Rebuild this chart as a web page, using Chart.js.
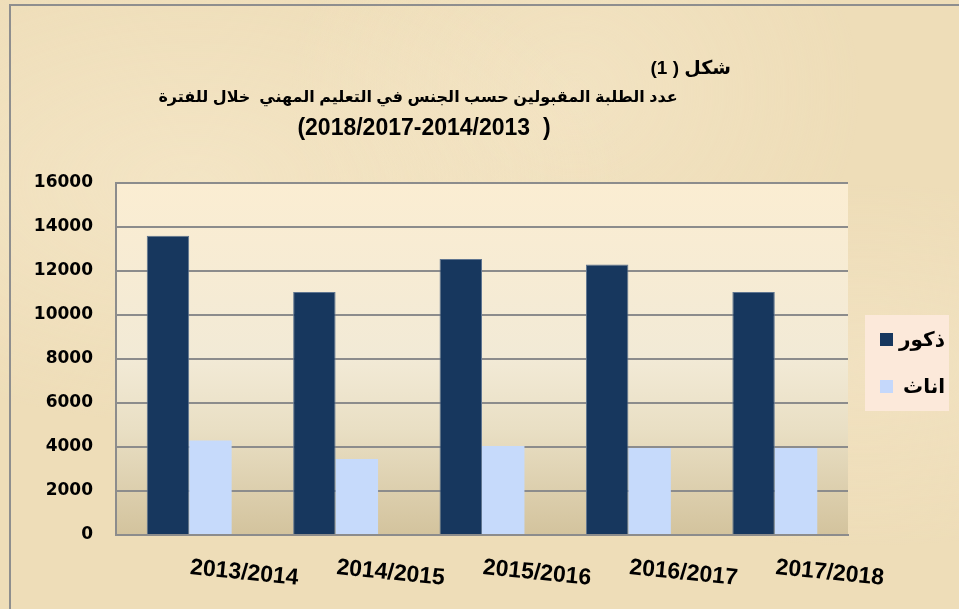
<!DOCTYPE html>
<html>
<head>
<meta charset="utf-8">
<script src="https://cdn.jsdelivr.net/npm/chart.js@4/dist/chart.umd.min.js"></script>
<style>
html,body{margin:0;padding:0;width:959px;height:609px;overflow:hidden;}
body{
  background-color:#EEDDB8;
  background-image:
    radial-gradient(ellipse at 20% 30%, rgba(250,238,212,0.45), rgba(250,238,212,0) 40%),
    radial-gradient(ellipse at 60% 15%, rgba(248,235,208,0.4), rgba(248,235,208,0) 35%),
    radial-gradient(ellipse at 90% 60%, rgba(246,232,205,0.4), rgba(246,232,205,0) 35%);
}
#frame{position:absolute;left:9px;top:4px;width:960px;height:620px;border-top:2px solid #8E8E8E;border-left:2px solid #8E8E8E;box-sizing:border-box;}
#wrap{position:absolute;left:0;top:0;width:959px;height:609px;}
.t{position:absolute;font-family:"Liberation Sans","DejaVu Sans",sans-serif;font-weight:bold;color:#000;white-space:pre;line-height:24px;height:24px;unicode-bidi:isolate;z-index:2;}
#t1{right:228px;top:56px;font-size:19px;text-align:right;}
#t2{left:0;width:836px;top:85px;font-size:16px;text-align:center;}
#t3{left:0;width:848px;top:115px;font-size:23px;text-align:center;}
</style>
</head>
<body>
<div id="frame"></div>
<div id="wrap"><canvas id="c" width="959" height="609"></canvas></div>
<div id="t1" class="t" dir="ltr"></div>
<div id="t2" class="t" dir="rtl"></div>
<div id="t3" class="t" dir="ltr"></div>
<script>
const categories = ['2013/2014','2014/2015','2015/2016','2016/2017','2017/2018'];
const maleValues = [13600, 11050, 12550, 12300, 11050];
const femaleValues = [4300, 3450, 4050, 3950, 3950];
const seriesNames = ['ذكور', 'اناث'];
const titleLines = ['شكل ( 1)', 'عدد الطلبة المقبولين حسب الجنس في التعليم المهني  خلال للفترة', '(2018/2017-2014/2013  )'];
const yTicks = [0, 2000, 4000, 6000, 8000, 10000, 12000, 14000, 16000];

document.getElementById('t1').textContent = titleLines[0];
document.getElementById('t2').textContent = titleLines[1];
document.getElementById('t3').textContent = titleLines[2];

const ctx = document.getElementById('c').getContext('2d');

function femaleFill(c) {
  const g = c.createLinearGradient(0, 0, 40, 60);
  g.addColorStop(0, '#C2D8FB');
  g.addColorStop(0.3, '#D2D6FA');
  g.addColorStop(0.55, '#C0D6FA');
  g.addColorStop(0.8, '#D6D8FB');
  g.addColorStop(1, '#C6DAFB');
  return g;
}

const bgPlugin = {
  id: 'bgPlugin',
  beforeDraw(chart) {
    const {ctx, chartArea: a} = chart;
    const g = ctx.createLinearGradient(0, a.top, 0, a.bottom);
    g.addColorStop(0, '#FBEDD2');
    g.addColorStop(0.5, '#F2EAD6');
    g.addColorStop(0.7, '#E9DFC4');
    g.addColorStop(1, '#D3C39D');
    ctx.save();
    ctx.fillStyle = g;
    ctx.fillRect(a.left, a.top, a.right - a.left, a.bottom - a.top);
    ctx.restore();
  },
  afterDraw(chart) {
    const {ctx} = chart;
    const xs = chart.scales.x;
    ctx.save();
    ctx.fillStyle = '#000';
    // x labels (slanted)
    ctx.font = 'bold 23px "Liberation Sans", Arial, sans-serif';
    ctx.textAlign = 'center';
    ctx.textBaseline = 'middle';
    categories.forEach((lab, i) => {
      const x = xs.getPixelForTick(i) + 55;
      ctx.save();
      ctx.translate(x, 573);
      ctx.rotate(0.1);
      ctx.fillText(lab, 0, 0);
      ctx.restore();
    });

    // legend
    ctx.fillStyle = '#FCE9DA';
    ctx.fillRect(865, 315, 84, 96);
    const ds = chart.data.datasets;
    const rows = [340, 387];
    ds.forEach((d, i) => {
      const y = rows[i];
      ctx.fillStyle = i === 0 ? '#17375E' : '#C5D8FB';
      ctx.fillRect(880, y - 7, 13, 13);
      ctx.fillStyle = '#000';
      ctx.font = 'bold 20px "Liberation Sans", "DejaVu Sans", sans-serif';
      ctx.textAlign = 'right';
      ctx.textBaseline = 'middle';
      ctx.fillText(d.label, 945, y);
    });
    ctx.restore();
  }
};

new Chart(ctx, {
  type: 'bar',
  data: {
    labels: categories,
    datasets: [
      { label: seriesNames[0], data: maleValues, backgroundColor: '#17375E', borderColor: '#5F7590', borderWidth: {top:1,left:1,right:1,bottom:0} },
      { label: seriesNames[1], data: femaleValues, backgroundColor: femaleFill(ctx), borderWidth: 0 }
    ]
  },
  options: {
    responsive: false,
    animation: false,
    devicePixelRatio: 1,
    layout: { padding: { left: 0, top: 183, right: 111, bottom: 74 } },
    plugins: { legend: { display: false }, title: { display: false }, tooltip: { enabled: false } },
    datasets: { bar: { categoryPercentage: 0.58, barPercentage: 1.0 } },
    scales: {
      x: {
        ticks: { display: false },
        grid: { display: false, drawTicks: false },
        border: { display: true, color: '#8C8C8C', width: 2 },
        afterFit(s) { s.height = 0; }
      },
      y: {
        min: 0, max: 16000,
        afterBuildTicks(s) { s.ticks = yTicks.map(v => ({ value: v })); },
        ticks: {
          padding: 23,
          color: '#000',
          callback: v => String(v),
          font: { family: '"DejaVu Sans", sans-serif', size: 17, weight: 'bold' }
        },
        grid: { color: '#8C8C8C', lineWidth: 2, drawTicks: false },
        border: { display: true, color: '#8C8C8C', width: 2 },
        afterFit(s) { s.width = 116; }
      }
    }
  },
  plugins: [bgPlugin]
});
</script>
</body>
</html>
